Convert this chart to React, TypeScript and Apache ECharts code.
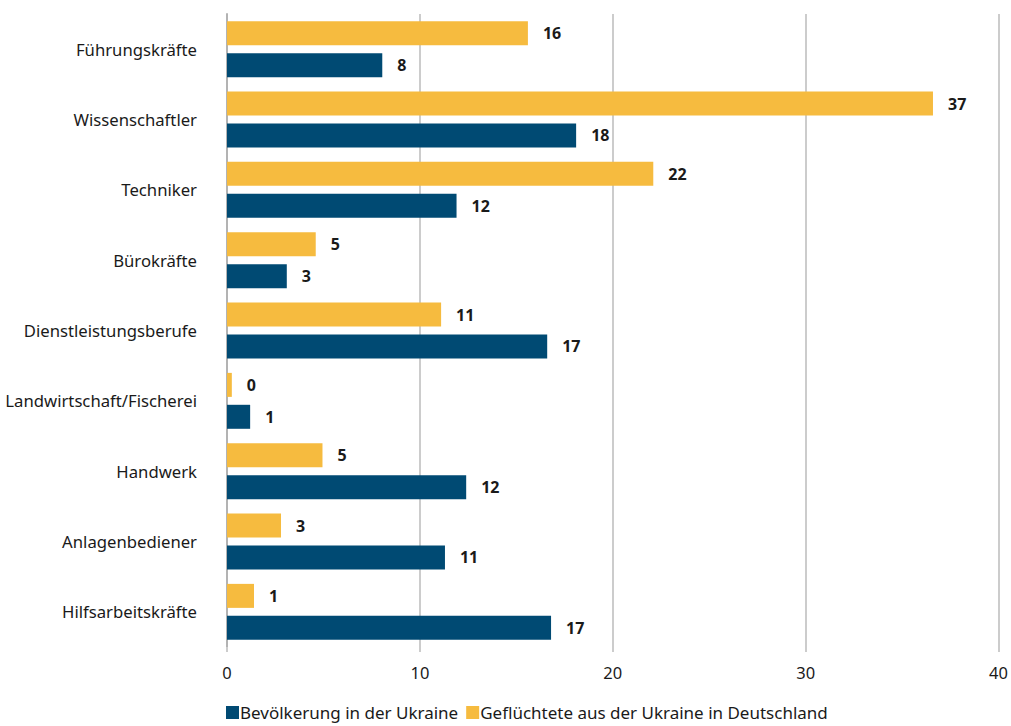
import React, { useEffect, useRef } from "react";
import * as echarts from "echarts";

const categories = [
  "Führungskräfte",
  "Wissenschaftler",
  "Techniker",
  "Bürokräfte",
  "Dienstleistungsberufe",
  "Landwirtschaft/Fischerei",
  "Handwerk",
  "Anlagenbediener",
  "Hilfsarbeitskräfte",
];

const refugees = [15.6, 36.6, 22.1, 4.6, 11.1, 0.25, 4.95, 2.8, 1.4];
const population = [8.05, 18.1, 11.9, 3.1, 16.6, 1.2, 12.4, 11.3, 16.8];

const seriesNames = ["Bevölkerung in der Ukraine", "Geflüchtete aus der Ukraine in Deutschland"];
const xTicks = { min: 0, max: 40, interval: 10 };

const FONT = "Noto Sans";

export default function App() {
  const ref = useRef<HTMLDivElement>(null);
  useEffect(() => {
    if (!ref.current) return;
    const chart = echarts.init(ref.current, undefined, { renderer: "svg" });
    const labelCfg = {
      show: true,
      position: "right",
      distance: 15,
      color: "#1a1a1a",
      fontWeight: "bold",
      fontSize: 16,
      fontFamily: FONT,
      formatter: (p: any) => String(Math.round(p.value)),
    };
    chart.setOption({
      animation: false,
      textStyle: { fontFamily: FONT },
      grid: { left: 227, right: 9, top: 14, bottom: 79, containLabel: false },
      legend: {
        data: seriesNames,
        bottom: 0,
        left: 221,
        icon: "rect",
        itemWidth: 13,
        itemHeight: 13,
        itemGap: 8,
        textStyle: { fontSize: 17, color: "#1a1a1a", fontFamily: FONT, padding: [0, 0, 0, -4] },
      },
      xAxis: {
        type: "value",
        min: xTicks.min,
        max: xTicks.max,
        interval: xTicks.interval,
        axisLine: { show: false },
        axisTick: { show: true, length: 5, lineStyle: { color: "#cccccc", width: 2 } },
        splitLine: { show: true, lineStyle: { color: "#cccccc", width: 2 } },
        axisLabel: { fontSize: 16.5, color: "#1a1a1a", margin: 17, fontFamily: FONT },
      },
      yAxis: {
        type: "category",
        data: categories,
        inverse: true,
        axisLine: { show: true, lineStyle: { color: "#b3b3b3", width: 2 } },
        axisTick: { show: false },
        axisLabel: { fontSize: 16.7, color: "#1a1a1a", margin: 30, fontFamily: FONT },
      },
      series: [
        {
          name: seriesNames[1],
          type: "bar",
          data: refugees,
          barWidth: 24,
          barGap: "33%",
          itemStyle: { color: "#F6BB3F" },
          label: labelCfg,
        },
        {
          name: seriesNames[0],
          type: "bar",
          data: population,
          barWidth: 24,
          barGap: "33%",
          itemStyle: { color: "#004A73" },
          label: labelCfg,
        },
      ],
    });
    return () => chart.dispose();
  }, []);
  return (
    <div
      ref={ref}
      style={{ position: "absolute", left: 0, top: 0, width: 1011, height: 726, background: "#fff" }}
    />
  );
}
